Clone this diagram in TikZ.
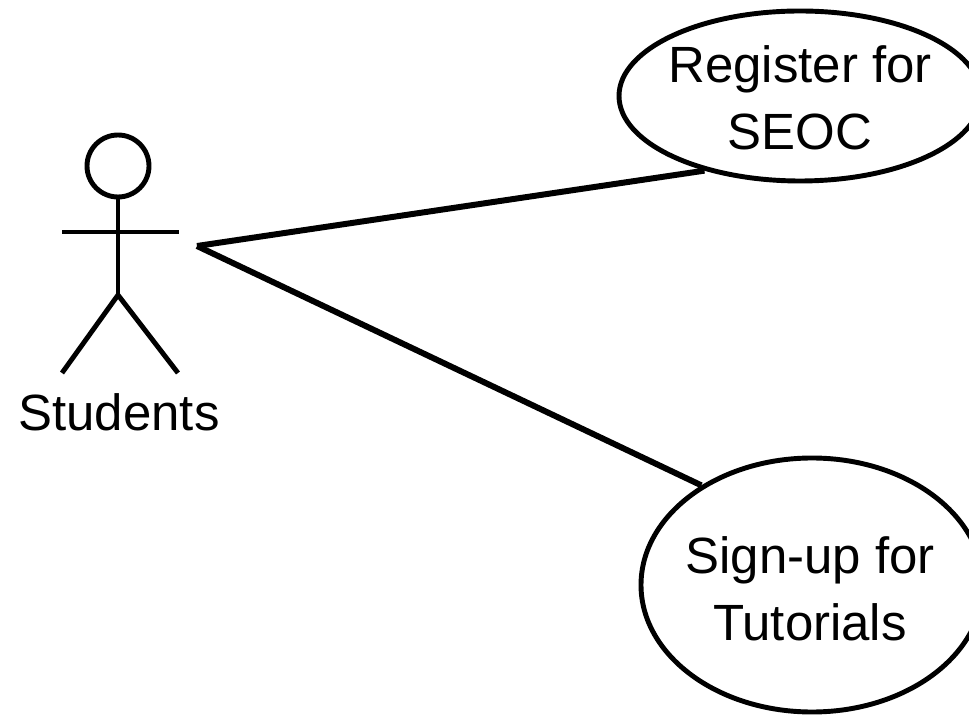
\documentclass[tikz,border=0pt]{standalone}
\usepackage{fontspec}
\setmainfont{Liberation Sans}
\usetikzlibrary{positioning,shapes.geometric}

\tikzset{
  usecase/.style={draw, ellipse, line width=2.8pt, inner sep=0pt},
  casetext/.style={align=center, font=\fontsize{29}{38}\selectfont},
  actorline/.style={line width=2.8pt},
  link/.style={line width=3.4pt}
}

\begin{document}
\begin{tikzpicture}[scale=1.0]
\useasboundingbox (0,0) rectangle (19.38,14.32);

% Stick figure
\node[draw, circle, line width=2.8pt, minimum size=1.24cm, inner sep=0pt] (head) at (2.36, 11.0) {};
\coordinate (hip) at (2.36, 8.42);
\draw[actorline] (head.south) -- (hip);
\draw[actorline] (1.24, 9.68) -- (3.58, 9.68);
\draw[actorline] (1.24, 6.86) -- (hip) -- (3.56, 6.86);
\node[font=\fontsize{29}{38}\selectfont] (students) at (2.38, 6.08) {Students};

% Use cases
\node[usecase, minimum width=7.24cm, minimum height=3.4cm] (register) at (16.0, 12.4) {};
\node[casetext] (registertext) at (16.0, 12.36) {Register for\\SEOC};
\node[usecase, minimum width=6.84cm, minimum height=5.08cm] (signup) at (16.24, 2.62) {};
\node[casetext] (signuptext) at (16.2, 2.54) {Sign-up for\\Tutorials};

% Associations
\coordinate (hub) at (3.94, 9.4);
\draw[link] (hub) -- (register.218);
\draw[link] (hub) -- (signup.138);

\end{tikzpicture}
\end{document}
